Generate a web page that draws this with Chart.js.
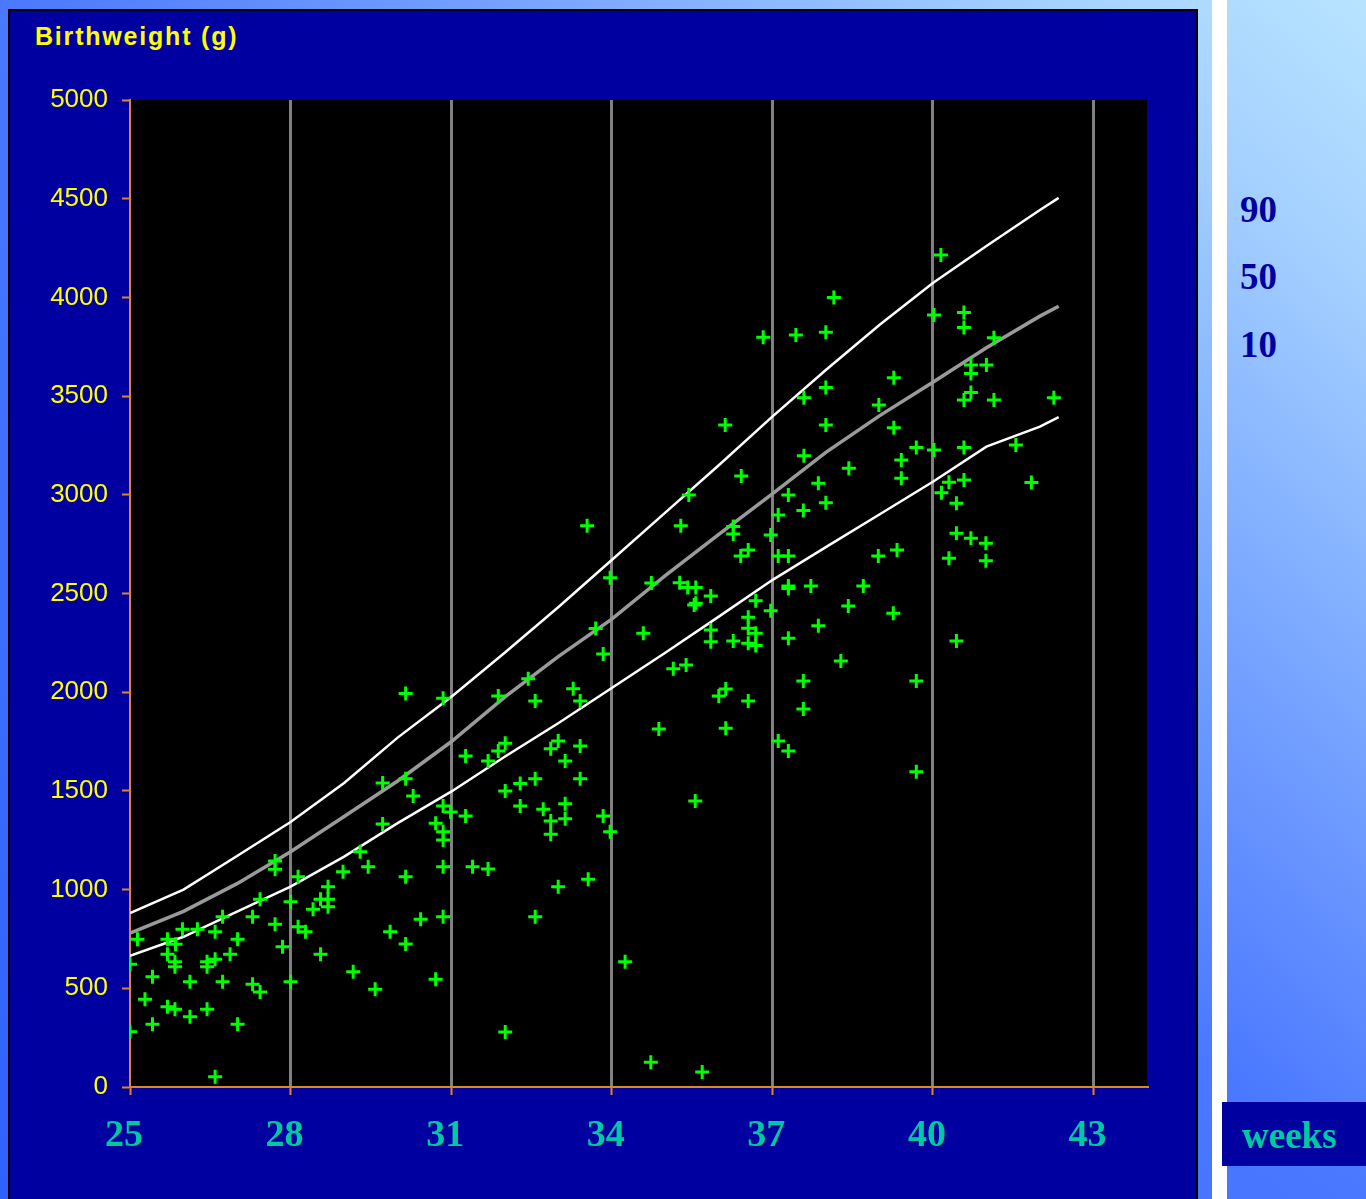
<!DOCTYPE html>
<html>
<head>
<meta charset="utf-8">
<script src="https://cdn.jsdelivr.net/npm/chart.js@4.4.1/dist/chart.umd.min.js"></script>
<style>
html,body{margin:0;padding:0;}
body{width:1366px;height:1199px;overflow:hidden;position:relative;
  background:linear-gradient(to bottom left,#b8e4ff 0%,#a4d0ff 12%,#4a78ff 50%,#3060ff 100%);}
#panel{position:absolute;left:8px;top:9px;width:1190px;height:1200px;box-sizing:border-box;
  border:2px solid #000;border-bottom:none;background:#0000a0;}
#strip{position:absolute;left:1212px;top:0;width:15px;height:1199px;background:#fff;}
#title{position:absolute;left:35px;top:24px;font:bold 25px 'Liberation Sans',Arial,sans-serif;
  line-height:25px;letter-spacing:1.8px;color:#ffff00;white-space:nowrap;}
.pl{position:absolute;left:1240px;font:bold 37px 'Liberation Serif','Times New Roman',serif;
  color:#0000a0;line-height:37px;}
#weeks{position:absolute;left:1222px;top:1102px;width:144px;height:64px;box-sizing:border-box;
  padding-left:20px;padding-top:3px;background:#0000a0;color:#00c8a0;
  font:bold 37px 'Liberation Serif','Times New Roman',serif;line-height:61px;}
#c{position:absolute;left:0;top:0;}
</style>
</head>
<body>
<div id="panel"></div>
<div id="strip"></div>
<div id="title">Birthweight (g)</div>
<div class="pl" style="top:191px">90</div>
<div class="pl" style="top:258px">50</div>
<div class="pl" style="top:326px">10</div>
<div id="weeks">weeks</div>
<canvas id="c" width="1366" height="1199"></canvas>
<script>
// ---- data ----
const xTicks = [25, 28, 31, 34, 37, 40, 43];
const pctWeeks = [25, 26, 27, 28, 29, 30, 31, 32, 33, 34, 35, 36, 37, 38, 39, 40, 41, 42, 42.35];
const p90 = [881, 1000, 1170, 1342, 1540, 1770, 1976, 2200, 2430, 2670, 2910, 3150, 3396, 3632, 3860, 4073, 4260, 4443, 4504];
const p50 = [780, 890, 1030, 1192, 1370, 1550, 1749, 1975, 2180, 2370, 2590, 2800, 3005, 3215, 3400, 3570, 3745, 3905, 3955];
const p10 = [665, 761, 888, 1015, 1167, 1337, 1496, 1673, 1843, 2021, 2200, 2383, 2568, 2735, 2900, 3066, 3244, 3345, 3394];

const ptWeeks = [
 25.00,25.00,25.14,25.28,25.42,25.42,25.70,25.85,25.70,25.84,25.84,25.98,26.12,25.70,25.84,26.12,26.26,26.44,26.59,26.44,
 26.59,26.44,26.73,26.73,27.01,26.87,27.01,26.59,27.29,27.43,27.29,27.43,27.71,27.71,27.71,27.85,28.00,28.00,28.14,28.14,
 28.28,28.42,28.56,28.70,28.70,28.70,28.56,28.98,29.30,29.45,29.17,29.58,29.86,29.72,29.72,
 30.15,30.85,31.88,32.44,32.57,33.28,33.41,33.84,35.15,35.39,34.88,32.01,31.88,31.27,31.69,33.00,32.86,33.41,33.13,33.41,
 30.15,30.29,32.57,32.29,32.01,32.29,32.72,33.13,33.13,32.86,32.86,33.84,33.97,30.85,30.99,31.27,30.71,30.85,30.85,30.85,
 31.40,31.69,30.15,33.56,33.00,30.43,30.85,32.57,30.15,30.71,34.25,32.01,34.73,35.69,33.70,34.59,35.54,35.56,33.54,33.97,34.74,
 35.44,35.29,37.30,37.86,38.00,37.58,37.11,36.97,36.27,36.27,36.41,36.55,37.11,37.30,38.98,39.33,35.27,35.42,35.57,35.57,
 35.85,36.69,37.30,37.30,37.72,38.70,38.42,39.26,36.97,36.55,36.55,36.69,36.55,36.69,35.85,35.85,36.27,37.30,37.86,38.28,
 36.13,36.00,36.55,37.58,37.58,36.13,37.11,37.30,
 36.12,36.42,40.15,38.15,36.83,37.44,38.00,40.02,40.58,40.58,41.14,40.71,41.00,40.71,39.27,38.00,37.59,40.71,40.58,41.14,
 42.26,38.99,38.00,39.27,37.59,38.43,39.69,40.02,40.58,39.41,39.41,41.55,40.30,40.58,40.16,40.44,41.84,40.44,40.71,40.99,
 40.30,40.99,40.44,39.69,39.69
];
const ptWeights = [
 622,280,748,444,559,318,748,723,672,635,609,799,533,407,394,356,799,635,647,609,
 787,394,863,533,748,672,318,52,863,951,520,481,1145,1103,824,711,939,533,1065,812,
 787,900,951,1015,951,913,672,1091,1192,1116,584,495,787,1540,1332,
 1994,1969,1981,2068,1955,2018,1955,2193,2119,2138,1814,1741,1702,1677,1651,1753,1714,1727,1651,1562,
 1562,1474,1562,1537,1499,1424,1407,1435,1359,1348,1280,1373,1293,1424,1393,1373,1336,1293,1251,1116,
 1116,1104,1065,1052,1015,850,863,863,724,546,635,279,125,76,2323,2298,2442,1449,2843,2580,2553,
 2999,2843,2999,3058,2960,2920,2898,2796,2839,2801,2690,2720,2690,2690,2690,2720,2555,2531,2531,2450,
 2487,2463,2538,2525,2538,2538,2437,2400,2413,2380,2324,2299,2248,2236,2315,2256,2259,2273,2337,2158,
 2016,1981,1955,2057,1915,1817,1753,1702,
 3354,3095,4215,3999,3798,3810,3823,3911,3924,3847,3796,3658,3658,3615,3593,3543,3492,3518,3480,3480,
 3492,3455,3354,3340,3198,3134,3239,3227,3239,3176,3084,3252,3063,3075,3011,2957,3062,2805,2780,2755,
 2678,2666,2259,2057,1597
];

// ---- chart ----
const toXY = (xs, ys) => xs.map((x, i) => ({ x: x, y: ys[i] }));
const ORANGE = '#e0862a';

const blackArea = {
  id: 'blackArea',
  beforeDraw(chart) {
    const { ctx, chartArea: a } = chart;
    ctx.save();
    ctx.fillStyle = '#000000';
    ctx.fillRect(a.left, a.top, a.right - a.left, a.bottom - a.top);
    ctx.restore();
  }
};

new Chart(document.getElementById('c'), {
  type: 'scatter',
  data: {
    datasets: [
      { label: 'Births', data: toXY(ptWeeks, ptWeights), pointStyle: 'cross', pointRadius: 7,
        borderColor: '#00ff00', backgroundColor: '#00ff00', borderWidth: 3 },
      { label: '90th centile', data: toXY(pctWeeks, p90), showLine: true, pointRadius: 0,
        borderColor: '#ffffff', borderWidth: 2.5, tension: 0 },
      { label: '50th centile', data: toXY(pctWeeks, p50), showLine: true, pointRadius: 0,
        borderColor: '#9a9a9a', borderWidth: 3.5, tension: 0 },
      { label: '10th centile', data: toXY(pctWeeks, p10), showLine: true, pointRadius: 0,
        borderColor: '#ffffff', borderWidth: 2.5, tension: 0 }
    ]
  },
  options: {
    responsive: false,
    animation: false,
    devicePixelRatio: 1,
    layout: { padding: { left: 10, right: 219, top: 100, bottom: 0 } },
    plugins: { legend: { display: false }, tooltip: { enabled: false }, title: { display: false } },
    scales: {
      x: {
        type: 'linear', min: 25, max: 44,
        afterBuildTicks: s => { s.ticks = xTicks.map(v => ({ value: v })); },
        afterFit: s => { s.height = 112; },
        grid: {
          color: c => (c.tick && c.tick.value === 25) ? 'rgba(0,0,0,0)' : '#808080',
          lineWidth: 3, tickColor: ORANGE, tickLength: 8, tickWidth: 2
        },
        border: { color: ORANGE, width: 2 },
        ticks: { color: '#00c8a0', font: { family: 'Liberation Serif', size: 38, weight: 'bold' },
                 padding: 18, labelOffset: -6, maxRotation: 0, autoSkip: false,
                 callback: v => String(v) }
      },
      y: {
        min: 0, max: 5000,
        afterFit: s => { s.width = 120; },
        ticks: { stepSize: 500, color: '#ffff00', font: { family: 'Liberation Sans', size: 26 }, padding: 14,
                 callback: v => String(v) },
        grid: { drawOnChartArea: false, tickColor: ORANGE, tickLength: 8, tickWidth: 2 },
        border: { color: ORANGE, width: 2 }
      }
    }
  },
  plugins: [blackArea]
});
</script>
</body>
</html>
